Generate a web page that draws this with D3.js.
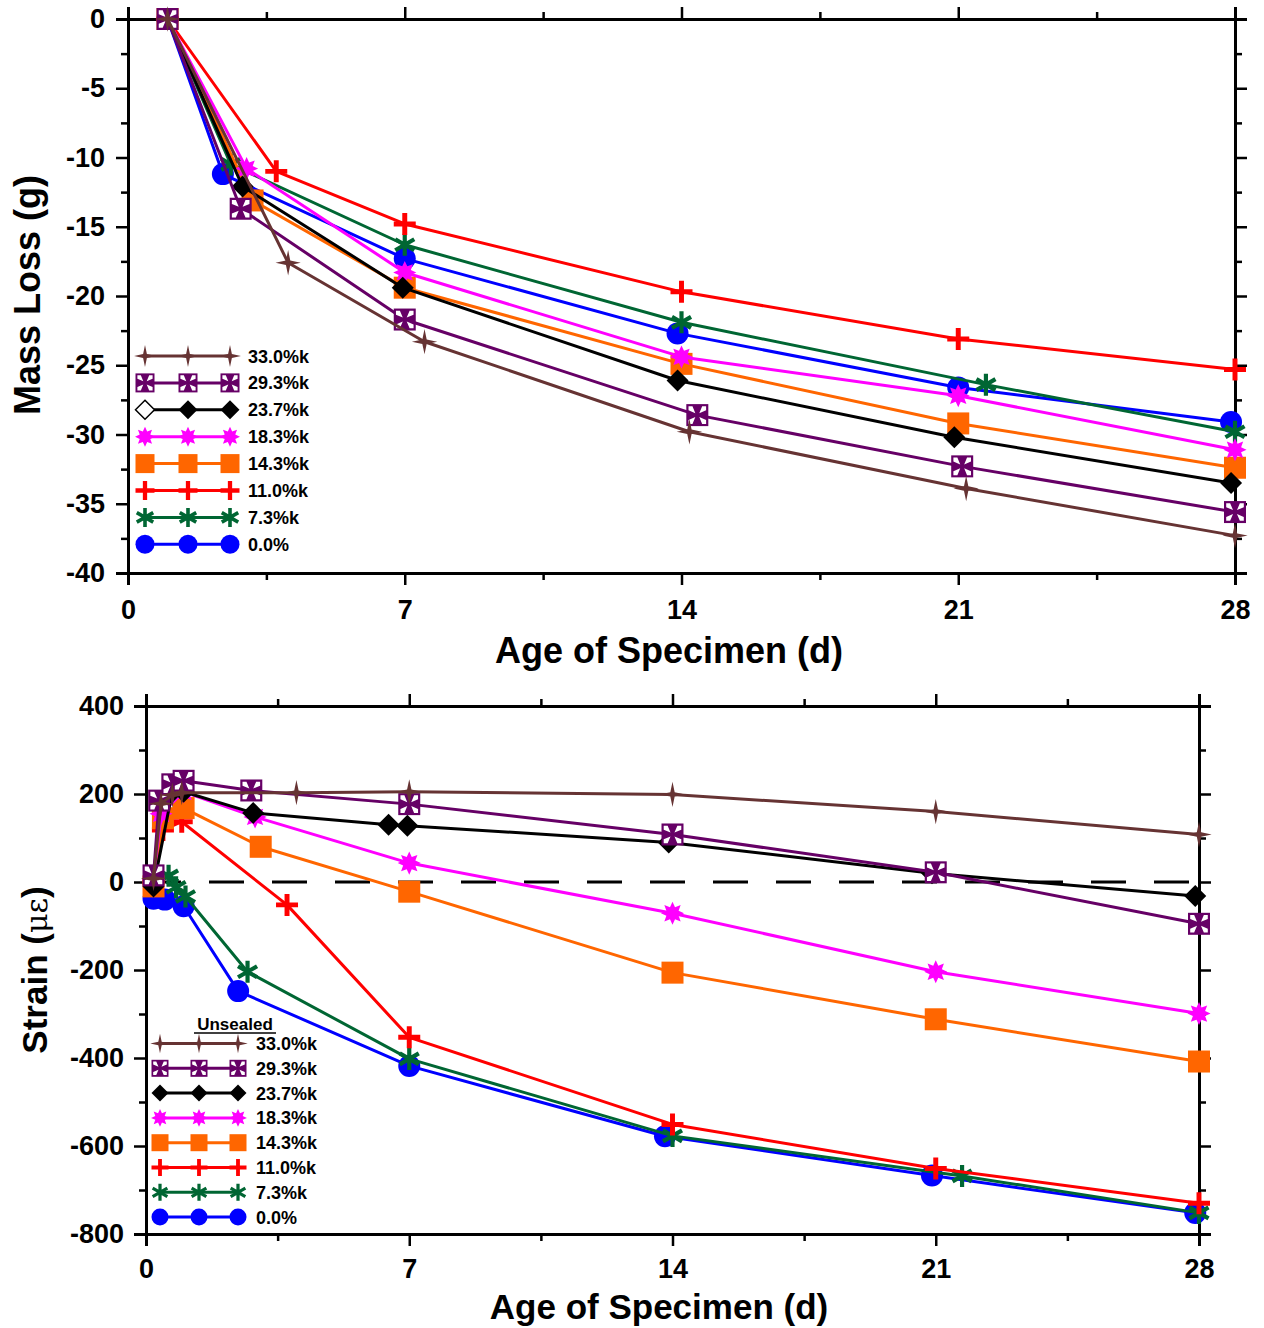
<!DOCTYPE html>
<html>
<head>
<meta charset="utf-8">
<script src="https://cdn.jsdelivr.net/npm/d3@7"></script>
<style>
  body { margin: 0; background: #fff; }
  svg { display: block; }
  text { font-family: "Liberation Sans", Arial, sans-serif; font-weight: bold; fill: #000; }
</style>
</head>
<body>
<svg id="chart" width="1264" height="1328"></svg>
<script>
// ---- series definitions (legend order) ----
const seriesLabels = ["33.0%k", "29.3%k", "23.7%k", "18.3%k", "14.3%k", "11.0%k", "7.3%k", "0.0%"];
const seriesColors = ["#663333", "#660066", "#000000", "#FF00FF", "#FF6600", "#FF0000", "#006633", "#0000FF"];
const seriesShapes = ["star4", "maltese", "diamond", "burst", "square", "plus", "asterisk", "circle"];

// ---- mass loss (g) vs age (d): [day, value] ----
const mass330 = [[1, 0], [4.05, -17.6], [7.5, -23.3], [14.2, -29.8], [21.2, -33.9], [28, -37.3]];
const mass293 = [[1, 0], [2.85, -13.7], [7, -21.7], [14.4, -28.6], [21.1, -32.3], [28, -35.6]];
const mass237 = [[1, 0], [2.9, -12.1], [6.95, -19.4], [13.9, -26.1], [20.9, -30.2], [27.9, -33.5]];
const mass183 = [[1, 0], [3.0, -10.8], [7, -18.3], [14, -24.4], [21, -27.2], [28, -31.1]];
const mass143 = [[1, 0], [3.15, -13.1], [7, -19.4], [14, -24.9], [21, -29.2], [28, -32.4]];
const mass110 = [[1, 0], [3.75, -11.0], [7, -14.8], [14, -19.7], [21, -23.1], [28, -25.3]];
const mass073 = [[1, 0], [2.6, -10.5], [7, -16.3], [14, -21.9], [21.7, -26.4], [28, -29.8]];
const mass000 = [[1, 0], [2.4, -11.2], [7, -17.3], [13.9, -22.7], [21, -26.6], [27.9, -29.1]];

// ---- strain (microstrain) vs age (d): [day, value] ----
const strain330 = [[0.2, 8], [0.4, 178], [0.7, 198], [0.95, 203], [4.0, 203], [7, 205], [14, 199], [21, 160], [28, 108]];
const strain293 = [[0.2, 15], [0.35, 185], [0.7, 222], [1.0, 230], [2.8, 208], [7, 177], [14, 108], [21, 22], [28, -95]];
const strain237 = [[0.2, -10], [0.7, 205], [1.0, 205], [2.85, 157], [6.45, 130], [6.95, 128], [13.9, 90], [20.9, 20], [27.9, -32]];
const strain183 = [[0.2, 5], [0.4, 155], [1.0, 205], [2.9, 148], [7, 43], [14, -71], [21, -204], [28, -299]];
const strain143 = [[0.2, -10], [0.45, 145], [1.0, 168], [3.05, 80], [7, -22], [14, -206], [21, -312], [28, -408]];
const strain110 = [[0.2, 0], [0.45, 118], [0.95, 137], [3.75, -52], [7, -353], [14, -551], [21, -651], [28, -730]];
const strain073 = [[0.2, 2], [0.6, 14], [0.8, -12], [1.05, -33], [2.7, -204], [7, -402], [14, -577], [21.7, -668], [28, -752]];
const strain000 = [[0.2, -38], [0.5, -40], [1.0, -55], [2.45, -248], [7, -418], [13.8, -578], [20.9, -667], [27.9, -752]];

const massSeries = [mass330, mass293, mass237, mass183, mass143, mass110, mass073, mass000];
const strainSeries = [strain330, strain293, strain237, strain183, strain143, strain110, strain073, strain000];

// ---- tick values ----
const ageTicks = [0, 7, 14, 21, 28];
const ageMinorTicks = [3.5, 10.5, 17.5, 24.5];
const massTicks = [0, -5, -10, -15, -20, -25, -30, -35, -40];
const massMinorTicks = [-2.5, -7.5, -12.5, -17.5, -22.5, -27.5, -32.5, -37.5];
const strainTicks = [400, 200, 0, -200, -400, -600, -800];
const strainMinorTicks = [300, 100, -100, -300, -500, -700];

const svg = d3.select("#chart");

// marker shapes, drawn centred on (0,0)
function starPath(points, rOut, rIn) {
  const pts = [];
  for (let i = 0; i < points * 2; i++) {
    const a = -Math.PI / 2 + i * Math.PI / points;
    const r = i % 2 === 0 ? rOut : rIn;
    pts.push([r * Math.cos(a), r * Math.sin(a)]);
  }
  return "M" + pts.map(p => p[0].toFixed(2) + "," + p[1].toFixed(2)).join("L") + "Z";
}

function drawMarker(g, shape, color, x, y, r, open) {
  const m = g.append("g").attr("transform", `translate(${x},${y})`);
  switch (shape) {
    case "circle":
      m.append("circle").attr("r", r).attr("fill", color);
      break;
    case "square":
      m.append("rect").attr("x", -r).attr("y", -r).attr("width", 2 * r).attr("height", 2 * r).attr("fill", color);
      break;
    case "diamond":
      m.append("path").attr("d", `M0,${-r}L${r},0L0,${r}L${-r},0Z`)
        .attr("fill", open ? "#fff" : color).attr("stroke", color).attr("stroke-width", open ? 1.5 : 0);
      break;
    case "plus":
      m.append("path").attr("d", `M${-r},0H${r}M0,${-r}V${r}`)
        .attr("stroke", color).attr("stroke-width", r * 0.45).attr("fill", "none");
      break;
    case "asterisk": {
      let d = "";
      [90, 30, 150].forEach(deg => {
        const a = deg * Math.PI / 180;
        d += `M${(-r * Math.cos(a)).toFixed(2)},${(-r * Math.sin(a)).toFixed(2)}L${(r * Math.cos(a)).toFixed(2)},${(r * Math.sin(a)).toFixed(2)}`;
      });
      m.append("path").attr("d", d).attr("stroke", color).attr("stroke-width", r * 0.38).attr("fill", "none");
      break;
    }
    case "burst":
      m.append("path").attr("d", starPath(8, r * 1.05, r * 0.6)).attr("fill", color);
      break;
    case "star4":
      m.append("path").attr("d", starPath(4, r * 1.15, r * 0.28)).attr("fill", color);
      break;
    case "maltese": {
      // filled square with four narrow white wedges opening toward the corners
      m.append("rect").attr("x", -r).attr("y", -r).attr("width", 2 * r).attr("height", 2 * r).attr("fill", color);
      const k = r * 0.8, w = r * 0.36, c = r * 0.18;
      let d = "";
      [[1, 1], [1, -1], [-1, 1], [-1, -1]].forEach(([sx, sy]) => {
        d += `M${sx * c},${sy * c}L${sx * k},${sy * (k - w)}L${sx * k},${sy * k}L${sx * (k - w)},${sy * k}Z`;
      });
      m.append("path").attr("d", d).attr("fill", "#fff");
      break;
    }
  }
}

function styleAxis(g) {
  g.select(".domain").attr("stroke", "#000").attr("stroke-width", 3);
  g.selectAll(".tick line").attr("stroke", "#000").attr("stroke-width", 2.5);
  g.selectAll(".tick text").style("font-size", "27px");
}

function drawPanel(cfg) {
  const { x, y, xTicks, xMinor, yTicks, yMinor } = cfg;
  const [xl, xr] = x.range();
  const [yb, yt] = y.range();
  const fmt = d => String(d);

  // bottom axis
  const gb = svg.append("g").attr("transform", `translate(0,${yb})`)
    .call(d3.axisBottom(x).tickValues(xTicks).tickSize(12).tickPadding(cfg.xPad).tickFormat(fmt));
  styleAxis(gb);
  const gbm = svg.append("g").attr("transform", `translate(0,${yb})`)
    .call(d3.axisBottom(x).tickValues(xMinor).tickSize(7).tickFormat(""));
  styleAxis(gbm);
  // top axis (mirror)
  const gt = svg.append("g").attr("transform", `translate(0,${yt})`)
    .call(d3.axisTop(x).tickValues(xTicks).tickSize(12).tickFormat(""));
  styleAxis(gt);
  const gtm = svg.append("g").attr("transform", `translate(0,${yt})`)
    .call(d3.axisTop(x).tickValues(xMinor).tickSize(7).tickFormat(""));
  styleAxis(gtm);
  // left axis
  const gl = svg.append("g").attr("transform", `translate(${xl},0)`)
    .call(d3.axisLeft(y).tickValues(yTicks).tickSize(12).tickPadding(cfg.yPad).tickFormat(fmt));
  styleAxis(gl);
  const glm = svg.append("g").attr("transform", `translate(${xl},0)`)
    .call(d3.axisLeft(y).tickValues(yMinor).tickSize(7).tickFormat(""));
  styleAxis(glm);
  // right axis (mirror)
  const gr = svg.append("g").attr("transform", `translate(${xr},0)`)
    .call(d3.axisRight(y).tickValues(yTicks).tickSize(12).tickFormat(""));
  styleAxis(gr);
  const grm = svg.append("g").attr("transform", `translate(${xr},0)`)
    .call(d3.axisRight(y).tickValues(yMinor).tickSize(7).tickFormat(""));
  styleAxis(grm);

  if (cfg.zeroLine) {
    svg.append("line")
      .attr("x1", xl).attr("x2", xr).attr("y1", y(0)).attr("y2", y(0))
      .attr("stroke", "#000").attr("stroke-width", 3).attr("stroke-dasharray", "35,28");
  }

  // series: drawn from last legend entry up so the first entry ends on top
  const line = d3.line().x(d => x(d[0])).y(d => y(d[1]));
  const plot = svg.append("g");
  for (let i = cfg.series.length - 1; i >= 0; i--) {
    const data = cfg.series[i];
    const g = plot.append("g");
    g.append("path").attr("d", line(data)).attr("fill", "none")
      .attr("stroke", seriesColors[i]).attr("stroke-width", 3).attr("stroke-linejoin", "round");
    data.forEach(d => drawMarker(g, seriesShapes[i], seriesColors[i], x(d[0]), y(d[1]), 11, false));
  }

  // x title
  svg.append("text").attr("x", cfg.xTitleX).attr("y", cfg.xTitleY).attr("text-anchor", "middle")
    .style("font-size", cfg.titleSize + "px").text("Age of Specimen (d)");

  // legend
  const lg = svg.append("g");
  seriesLabels.forEach((lab, i) => {
    const ly = cfg.legY + i * cfg.legStep;
    lg.append("line").attr("x1", cfg.legX[0]).attr("x2", cfg.legX[2]).attr("y1", ly).attr("y2", ly)
      .attr("stroke", seriesColors[i]).attr("stroke-width", 3);
    cfg.legX.forEach((lx, j) => {
      const open = cfg.openFirstDiamond && seriesShapes[i] === "diamond" && j === 0;
      drawMarker(lg, seriesShapes[i], seriesColors[i], lx, ly, cfg.legR, open);
    });
    lg.append("text").attr("x", cfg.legTextX).attr("y", ly + 6.5).style("font-size", "18px").text(lab);
  });
}

// ---- top panel: mass loss ----
const xMass = d3.scaleLinear().domain([0, 28]).range([128, 1235]);
const yMass = d3.scaleLinear().domain([-40, 0]).range([573, 19]);
drawPanel({
  x: xMass, y: yMass, xTicks: ageTicks, xMinor: ageMinorTicks, yTicks: massTicks, yMinor: massMinorTicks,
  xPad: 15, yPad: 11, series: massSeries, zeroLine: false,
  xTitleX: 669, xTitleY: 663, titleSize: 36,
  legX: [145, 188, 230], legY: 356, legStep: 26.9, legR: 9.5, legTextX: 248, openFirstDiamond: true
});
svg.append("text").attr("transform", "translate(40,295) rotate(-90)").attr("text-anchor", "middle")
  .style("font-size", "36px").text("Mass Loss (g)");

// ---- bottom panel: strain ----
const xStrain = d3.scaleLinear().domain([0, 28]).range([146, 1199]);
const yStrain = d3.scaleLinear().domain([-800, 400]).range([1234, 706]);
drawPanel({
  x: xStrain, y: yStrain, xTicks: ageTicks, xMinor: ageMinorTicks, yTicks: strainTicks, yMinor: strainMinorTicks,
  xPad: 13, yPad: 10, series: strainSeries, zeroLine: true,
  xTitleX: 659, xTitleY: 1319, titleSize: 35,
  legX: [160, 199, 238], legY: 1043.5, legStep: 24.8, legR: 8.5, legTextX: 256, openFirstDiamond: false
});
svg.append("text").attr("x", 235).attr("y", 1030).attr("text-anchor", "middle")
  .style("font-size", "17px").text("Unsealed");
svg.append("line").attr("x1", 194).attr("x2", 276).attr("y1", 1033).attr("y2", 1033)
  .attr("stroke", "#000").attr("stroke-width", 1.5);
const strainTitle = svg.append("text").attr("transform", "translate(47,970) rotate(-90)")
  .attr("text-anchor", "middle").style("font-size", "35px");
strainTitle.append("tspan").text("Strain (");
strainTitle.append("tspan").style("font-family", "'DejaVu Serif', 'Liberation Serif', serif")
  .style("font-weight", "normal").style("font-size", "30px").text("με");
strainTitle.append("tspan").text(")");
</script>
</body>
</html>
